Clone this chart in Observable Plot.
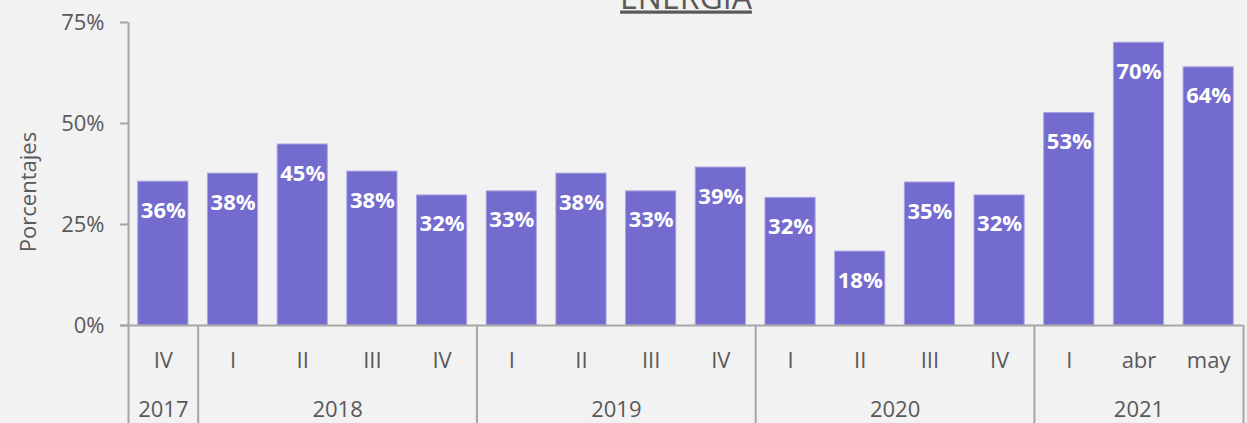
<!DOCTYPE html>
<html>
<head>
<meta charset="utf-8">
<script src="https://cdn.jsdelivr.net/npm/d3@7"></script>
<script src="https://cdn.jsdelivr.net/npm/@observablehq/plot@0.6"></script>
<style>
  html, body { margin: 0; padding: 0; background: #f2f2f2; }
  #chart svg { display: block; font-family: "Open Sans", sans-serif; }
  text[aria-label="title"] { text-decoration: underline; }
</style>
</head>
<body>
<div id="chart"></div>
<script>
// ---- data ----
const periods = ["IV", "I", "II", "III", "IV", "I", "II", "III", "IV", "I", "II", "III", "IV", "I", "abr", "may"];
const years   = ["2017", "2018", "2018", "2018", "2018", "2019", "2019", "2019", "2019", "2020", "2020", "2020", "2020", "2021", "2021", "2021"];
const values  = [35.6, 37.6, 44.8, 38.1, 32.2, 33.2, 37.6, 33.2, 39.1, 31.6, 18.3, 35.4, 32.2, 52.6, 70.0, 63.9];
const yTicks  = [0, 25, 50, 75];
const titleText = "ENERGIA";
const yLabel = "Porcentajes";

// ---- layout ----
const W = 1247, H = 423;
const ML = 128, MR = 4, MT = 22, MB = 98;
const step = (W - ML - MR) / periods.length;
const frameH = H - MT - MB;

const keys = periods.map((_, i) => i);
const data = periods.map((p, i) => ({key: i, period: p, year: years[i], value: values[i]}));

// year groups
const groups = [];
years.forEach((y, i) => {
  const g = groups[groups.length - 1];
  if (g && g.year === y) g.count++;
  else groups.push({year: y, first: i, count: 1});
});
const oddGroups = groups.filter(g => g.count % 2 === 1).map(g => ({year: g.year, key: g.first + (g.count - 1) / 2}));
const evenGroups = groups.filter(g => g.count % 2 === 0).map(g => ({year: g.year, key: g.first + g.count / 2 - 1}));
const sepStarts = groups.map(g => g.first);
const lastKey = keys[keys.length - 1];

const axisColor = "#a6a6a6";
const textColor = "#595959";
const barColor = "#736bce";

const chart = Plot.plot({
  width: W,
  height: H,
  marginLeft: ML,
  marginRight: MR,
  marginTop: MT,
  marginBottom: MB,
  style: {background: "#f2f2f2", color: textColor, fontFamily: "'Open Sans', sans-serif", overflow: "visible"},
  x: {type: "band", domain: keys, paddingInner: 0.28, paddingOuter: 0.14, round: false, axis: null, label: null},
  y: {domain: [0, 75], axis: null, label: null},
  marks: [
    Plot.barY(data, {x: "key", y: "value", fill: barColor, stroke: "#aaa4e3", strokeWidth: 1}),
    // baseline
    Plot.ruleY([0], {stroke: axisColor, strokeWidth: 2, insetLeft: -8}),
    // y axis line (extends through the category area)
    Plot.ruleX([keys[0]], {dx: -step / 2, stroke: axisColor, strokeWidth: 2, insetBottom: -MB}),
    // group separators
    Plot.ruleX(sepStarts.slice(1), {dx: -step / 2, stroke: axisColor, strokeWidth: 2, insetTop: frameH, insetBottom: -MB}),
    Plot.ruleX([lastKey], {dx: step / 2, stroke: axisColor, strokeWidth: 2, insetTop: frameH, insetBottom: -MB}),
    // y axis ticks & labels
    Plot.axisY({ticks: yTicks, tickFormat: d => d + "%", tickSize: 8, tickPadding: 16, fontSize: 22, stroke: axisColor, strokeWidth: 2, fill: textColor, label: null}),
    // x categories
    Plot.axisX({tickSize: 0, tickPadding: 27, tickFormat: i => periods[i], fontSize: 22, fill: textColor, label: null}),
    // year labels
    Plot.text(oddGroups, {x: "key", text: "year", frameAnchor: "bottom", dy: 84, lineAnchor: "middle", fontSize: 22, fill: textColor}),
    Plot.text(evenGroups, {x: "key", text: "year", frameAnchor: "bottom", dy: 84, dx: step / 2, lineAnchor: "middle", fontSize: 22, fill: textColor}),
    // value labels
    Plot.text(data, {x: "key", y: "value", text: d => Math.round(d.value) + "%", dy: 29, lineAnchor: "middle", fill: "white", fontWeight: "bold", fontSize: 22}),
    // y label
    Plot.text([yLabel], {frameAnchor: "left", text: d => d, textAnchor: "middle", dx: -100, dy: 18, rotate: -90, fontSize: 22, fill: textColor}),
    // title
    Plot.text([titleText], {frameAnchor: "top", text: d => d, dy: -14, lineAnchor: "bottom", fontSize: 32, fill: textColor, ariaLabel: () => "title"})
  ]
});
d3.select(chart).selectAll('text[aria-label="title"]').style("text-decoration", "underline");
document.getElementById("chart").appendChild(chart);
</script>
</body>
</html>
